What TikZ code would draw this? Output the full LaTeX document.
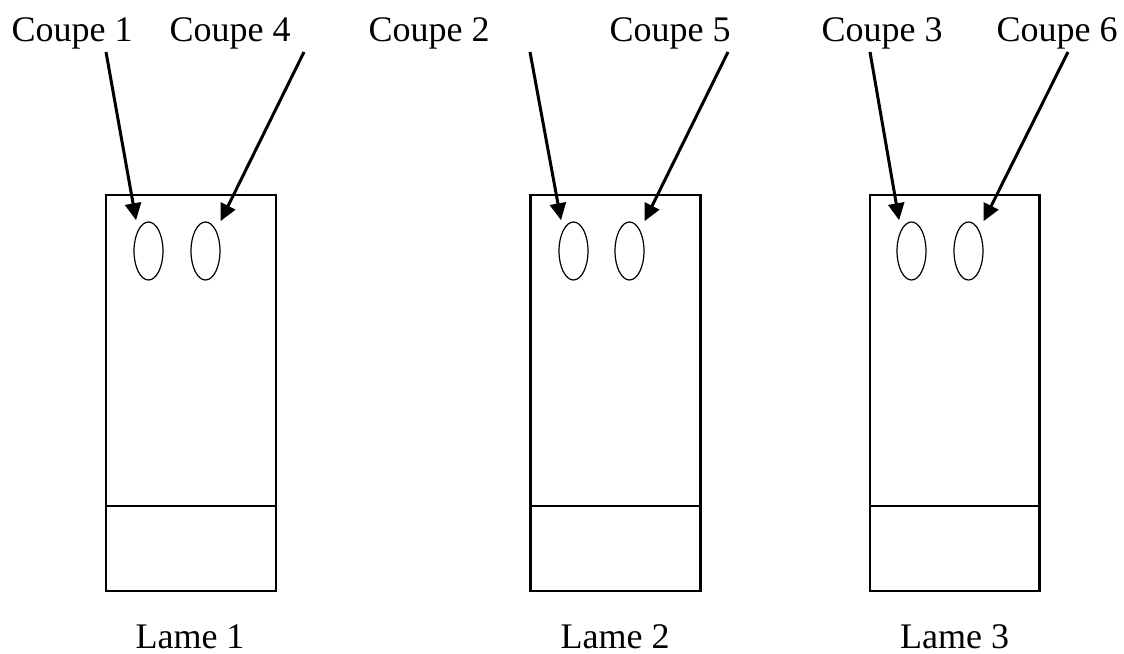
\documentclass[tikz,border=0pt]{standalone}
\usepackage{fontspec}
\setmainfont{Liberation Serif}
\usetikzlibrary{arrows.meta,shapes.geometric}
\tikzset{
 lame/.style={line width=1.4pt},
 coupe/.style={ellipse,draw,line width=.6pt,minimum width=14.5pt,minimum height=29pt,inner sep=0},
 cutarrow/.style={line width=1.5pt,-{Triangle[length=8.5pt,width=8pt]},shorten >=5pt},
 coupelabel/.style={anchor=base,inner sep=0,font=\fontsize{18}{21}\selectfont},
 lamelabel/.style={anchor=base,inner sep=0,font=\fontsize{18}{21}\selectfont}
}
\begin{document}
\begin{tikzpicture}[x=.5pt,y=-.5pt]
\path[use as bounding box] (0,0) rectangle (1124,653);
% Lame 1
\draw[lame] (106,195) rectangle (276,591);
\draw[lame] (106,506) -- (276,506);
\node[coupe] (e1) at (148.5,251) {};
\node[coupe] (e4) at (205.5,251) {};
\node[lamelabel] (l1) at (190,648) {Lame 1};
% Lame 2
\draw[lame] (530.5,195) rectangle (700.5,591);
\draw[lame] (530.5,506) -- (700.5,506);
\node[coupe] (e2) at (573.5,251) {};
\node[coupe] (e5) at (629.5,251) {};
\node[lamelabel] (l2) at (615,648) {Lame 2};
% Lame 3
\draw[lame] (870,195) rectangle (1039.5,591);
\draw[lame] (870,506) -- (1039.5,506);
\node[coupe] (e3) at (911.5,251) {};
\node[coupe] (e6) at (968.5,251) {};
\node[lamelabel] (l3) at (954.5,648) {Lame 3};
% coupes
\node[coupelabel] (c1) at (72,41) {Coupe 1};
\node[coupelabel] (c4) at (230,41) {Coupe 4};
\node[coupelabel] (c2) at (429,41) {Coupe 2};
\node[coupelabel] (c5) at (670,41) {Coupe 5};
\node[coupelabel] (c3) at (882,41) {Coupe 3};
\node[coupelabel] (c6) at (1057,41) {Coupe 6};
\coordinate (s1) at (106,52);
\coordinate (s4) at (304,52);
\coordinate (s2) at (530,52);
\coordinate (s5) at (728,52);
\coordinate (s3) at (870,52);
\coordinate (s6) at (1068,52);
\draw[cutarrow] (s1) -- (e1.north west);
\draw[cutarrow] (s4) -- (e4.north east);
\draw[cutarrow] (s2) -- (e2.north west);
\draw[cutarrow] (s5) -- (e5.north east);
\draw[cutarrow] (s3) -- (e3.north west);
\draw[cutarrow] (s6) -- (e6.north east);
\end{tikzpicture}
\end{document}
